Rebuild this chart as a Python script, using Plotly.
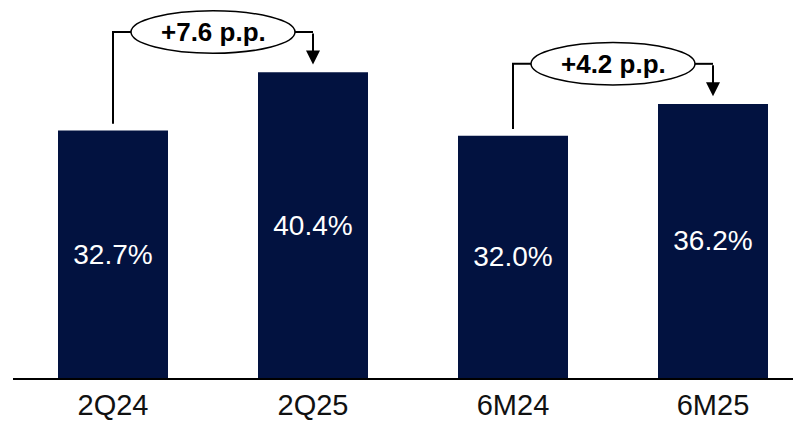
import plotly.graph_objects as go

categories = ["2Q24", "2Q25", "6M24", "6M25"]
values = [32.7, 40.4, 32.0, 36.2]
# comparison brackets: (from index, to index, label)
pairs = [(0, 1), (2, 3)]
pair_labels = ["+7.6 p.p.", "+4.2 p.p."]

BAR_COLOR = "#021240"
FONT = "Liberation Sans, Arial, sans-serif"

x_idx = list(range(len(categories)))

fig = go.Figure()
fig.add_trace(go.Bar(
    x=x_idx, y=values, width=0.55,
    marker=dict(color=BAR_COLOR, line=dict(width=0)),
    texttemplate="%{y:.1f}%",
    textposition="inside", insidetextanchor="middle", textangle=0,
    textfont=dict(color="white", size=28, family=FONT),
    constraintext="none",
    hoverinfo="skip",
))

shapes = []
annotations = []
for (a, b), lab in zip(pairs, pair_labels):
    va, vb = values[a], values[b]
    level = max(va, vb) + 5.3
    mid = (a + b) / 2
    hw = 0.41
    hh = 2.8
    # left riser + horizontal into ellipse
    shapes.append(dict(type="path", xref="x", yref="y",
                       path=f"M {a},{va + 0.9} L {a},{level} L {mid - hw},{level}",
                       line=dict(color="black", width=2)))
    # horizontal out of ellipse to right
    shapes.append(dict(type="line", xref="x", yref="y",
                       x0=mid + hw, x1=b, y0=level, y1=level,
                       line=dict(color="black", width=2)))
    # ellipse
    shapes.append(dict(type="circle", xref="x", yref="y",
                       x0=mid - hw, x1=mid + hw, y0=level - hh, y1=level + hh,
                       fillcolor="white", line=dict(color="black", width=1.5)))
    # down arrow
    annotations.append(dict(x=b, y=vb + 1.0, ax=b, ay=level, xref="x", yref="y",
                            axref="x", ayref="y", showarrow=True, arrowhead=2,
                            arrowsize=1.4, arrowwidth=2, arrowcolor="black", text=""))
    annotations.append(dict(x=mid, y=level, xref="x", yref="y", text=f"<b>{lab}</b>",
                            showarrow=False,
                            font=dict(size=26, color="black", family=FONT)))

fig.update_layout(
    width=794, height=421,
    margin=dict(l=13, r=1, t=0, b=41),
    paper_bgcolor="white", plot_bgcolor="white",
    showlegend=False,
    shapes=shapes, annotations=annotations,
    xaxis=dict(range=[-0.5, 3.4], tickvals=x_idx, ticktext=categories,
               showline=True, linecolor="black", linewidth=1.5,
               showgrid=False, zeroline=False, ticks="",
               tickfont=dict(size=29, color="#111111", family=FONT)),
    yaxis=dict(range=[0, 49.93], visible=False, showgrid=False, zeroline=False),
)

fig.write_html("out.html")
